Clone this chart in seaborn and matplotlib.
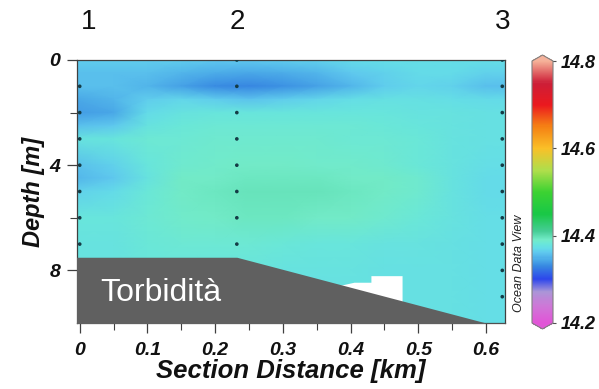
import numpy as np
import pandas as pd
import matplotlib
matplotlib.use("Agg")
import matplotlib.pyplot as plt
import seaborn as sns
from matplotlib.colors import LinearSegmentedColormap, Normalize
from matplotlib.cm import ScalarMappable

# ---------------- data ----------------
grid_x = [-0.01, 0.05, 0.1, 0.15, 0.2, 0.25, 0.3, 0.35, 0.4, 0.45, 0.5, 0.55, 0.6, 0.63]
grid_depth = [0, 0.5, 1, 1.5, 2, 2.5, 3, 4, 4.5, 5, 6, 7, 8, 9, 10]
temperature = [
    # -0.01  0.05    0.1    0.15    0.2    0.25    0.3    0.35    0.4    0.45    0.5    0.55    0.6    0.63
    [14.362, 14.362, 14.363, 14.362, 14.361, 14.360, 14.362, 14.366, 14.370, 14.372, 14.373, 14.373, 14.372, 14.372],  # 0
    [14.356, 14.357, 14.356, 14.350, 14.346, 14.345, 14.347, 14.352, 14.360, 14.366, 14.369, 14.369, 14.365, 14.365],  # 0.5
    [14.355, 14.355, 14.352, 14.341, 14.333, 14.331, 14.334, 14.341, 14.352, 14.362, 14.367, 14.366, 14.357, 14.356],  # 1
    [14.345, 14.350, 14.362, 14.367, 14.363, 14.359, 14.362, 14.367, 14.372, 14.374, 14.374, 14.373, 14.369, 14.369],  # 1.5
    [14.340, 14.345, 14.370, 14.377, 14.380, 14.380, 14.380, 14.380, 14.380, 14.380, 14.378, 14.376, 14.374, 14.374],  # 2
    [14.355, 14.360, 14.377, 14.382, 14.383, 14.383, 14.383, 14.383, 14.383, 14.382, 14.380, 14.377, 14.375, 14.375],  # 2.5
    [14.376, 14.379, 14.383, 14.385, 14.386, 14.386, 14.386, 14.386, 14.385, 14.383, 14.381, 14.377, 14.375, 14.375],  # 3
    [14.355, 14.366, 14.380, 14.387, 14.389, 14.390, 14.390, 14.389, 14.388, 14.386, 14.382, 14.378, 14.373, 14.373],  # 4
    [14.350, 14.361, 14.378, 14.390, 14.392, 14.393, 14.393, 14.393, 14.392, 14.390, 14.386, 14.377, 14.371, 14.371],  # 4.5
    [14.365, 14.371, 14.382, 14.391, 14.394, 14.395, 14.395, 14.395, 14.394, 14.392, 14.387, 14.377, 14.371, 14.371],  # 5
    [14.379, 14.380, 14.384, 14.388, 14.392, 14.393, 14.393, 14.392, 14.390, 14.387, 14.382, 14.376, 14.373, 14.373],  # 6
    [14.376, 14.378, 14.381, 14.384, 14.385, 14.384, 14.382, 14.380, 14.379, 14.378, 14.376, 14.375, 14.373, 14.373],  # 7
    [14.376, 14.377, 14.379, 14.380, 14.380, 14.379, 14.378, 14.377, 14.376, 14.375, 14.375, 14.374, 14.373, 14.373],  # 8
    [14.375, 14.376, 14.377, 14.377, 14.377, 14.376, 14.375, 14.375, 14.374, 14.374, 14.374, 14.374, 14.373, 14.373],  # 9
    [14.375, 14.376, 14.377, 14.377, 14.377, 14.376, 14.375, 14.375, 14.374, 14.374, 14.374, 14.374, 14.373, 14.373],  # 10
]

station_names = ["1", "2", "3"]
station_x = [0.0, 0.232, 0.624]
station_label_x = [0.013, 0.232, 0.624]
station_depths = [
    [1, 2, 3, 4, 5, 6, 7],
    [0, 1, 2, 3, 4, 5, 6, 7],
    [0, 1, 2, 3, 4, 5, 6, 7, 8, 9],
]

bottom_x = [-0.01, 0.232, 0.600, 0.64]
bottom_depth = [7.5, 7.5, 10.0, 10.0]
gap_x = [0.37, 0.405, 0.43, 0.43, 0.476, 0.476]
gap_top = [8.65, 8.45, 8.45, 8.2, 8.2, 9.3]

cbar_ticks = [14.2, 14.4, 14.6, 14.8]
vmin, vmax = 14.2, 14.8

# ODV-like colormap (value, colour)
cmap_stops = [
    (14.20, (225, 85, 215)),
    (14.24, (205, 120, 215)),
    (14.27, (170, 150, 215)),
    (14.30, (45, 70, 235)),
    (14.33, (55, 135, 225)),
    (14.345, (75, 170, 232)),
    (14.36, (95, 200, 238)),
    (14.37, (100, 220, 232)),
    (14.38, (105, 230, 218)),
    (14.39, (115, 235, 200)),
    (14.41, (70, 205, 150)),
    (14.45, (25, 200, 70)),
    (14.50, (60, 210, 50)),
    (14.55, (175, 222, 75)),
    (14.60, (250, 192, 40)),
    (14.65, (245, 130, 20)),
    (14.70, (235, 25, 30)),
    (14.75, (205, 30, 55)),
    (14.80, (245, 175, 150)),
]

# ---------------- figure ----------------
sns.set_style("ticks")
plt.rcParams["font.family"] = ["Liberation Sans", "DejaVu Sans"]

cmap = LinearSegmentedColormap.from_list(
    "odv",
    [((v - vmin) / (vmax - vmin), tuple(c / 255 for c in col)) for v, col in cmap_stops],
)
cmap.set_over(tuple(c / 255 for c in (245, 178, 155)))
cmap.set_under(tuple(c / 255 for c in (225, 85, 215)))
norm = Normalize(vmin, vmax)

fig = plt.figure(figsize=(5.99, 3.89), dpi=100)
ax = fig.add_axes([77 / 599, 1 - 323 / 389, 428 / 599, 263 / 389])

X, Y = np.meshgrid(grid_x, grid_depth)
ax.pcolormesh(X, Y, np.array(temperature), shading="gouraud", cmap=cmap, norm=norm, zorder=1)

# white gap and bathymetry
ax.fill_between(gap_x, gap_top, 10.5, color="white", lw=0, zorder=2)
ax.fill_between(bottom_x, bottom_depth, 10.5, color="#606060", lw=0, zorder=3)

# station sample dots
dots = pd.DataFrame(
    [(station_x[i], d) for i, ds in enumerate(station_depths) for d in ds],
    columns=["x", "depth"],
)
sns.scatterplot(data=dots, x="x", y="depth", ax=ax, s=7, color="#143c46",
                edgecolor="none", zorder=4, legend=False)

ax.set_xlim(-0.004, 0.628)
ax.set_ylim(10, 0)

ax.set_xticks([0, 0.1, 0.2, 0.3, 0.4, 0.5, 0.6])
ax.set_xticklabels(["0", "0.1", "0.2", "0.3", "0.4", "0.5", "0.6"])
ax.set_xticks(np.arange(0.05, 0.6, 0.1), minor=True)
ax.set_yticks([0, 4, 8])
ax.set_yticks([2, 6], minor=True)
ax.tick_params(axis="both", which="major", length=7, width=0.9, color="#404040",
               direction="out", pad=5)
ax.tick_params(axis="x", which="major", pad=7)
ax.tick_params(axis="both", which="minor", length=5, width=0.8, color="#404040", direction="out")
for lab in ax.get_xticklabels() + ax.get_yticklabels():
    lab.set_fontweight("bold")
    lab.set_fontstyle("italic")
    lab.set_fontsize(14)
    lab.set_color("#111111")

for sp in ax.spines.values():
    sp.set_color("#404040")
    sp.set_linewidth(0.9)
    sp.set_visible(True)

ax.set_xlabel("Section Distance [km]", fontsize=18.5, fontweight="bold", fontstyle="italic",
              color="#111111", labelpad=0)
ax.set_ylabel("Depth [m]", fontsize=17, fontweight="bold", fontstyle="italic",
              color="#111111", labelpad=3)

ax.text(0.03, 8.85, "Torbidità", color="white", fontsize=23, ha="left", va="center", zorder=5)

for name, lx in zip(station_names, station_label_x):
    ax.text(lx, 1.145, name, transform=ax.get_xaxis_transform(), ha="center", va="center",
            fontsize=20, color="#111111")

# colour bar
cax = fig.add_axes([532 / 599, 1 - 329 / 389, 21 / 599, 274 / 389])
cb = fig.colorbar(ScalarMappable(norm=norm, cmap=cmap), cax=cax, extend="both",
                  extendfrac=0.023, ticks=cbar_ticks)
cb.outline.set_edgecolor("#808080")
cb.outline.set_linewidth(0.8)
cax.tick_params(direction="inout", length=5, width=0.8, color="#505050", pad=3)
cax.set_yticklabels([f"{t:.1f}" for t in cbar_ticks])
for lab in cax.get_yticklabels():
    lab.set_fontweight("bold")
    lab.set_fontstyle("italic")
    lab.set_fontsize(13)
    lab.set_color("#111111")

fig.text(519 / 599, 1 - 263 / 389, "Ocean Data View", rotation=90, ha="center", va="center",
         fontsize=9, fontstyle="italic", color="#222222")

fig.savefig("out.png", dpi=100)
